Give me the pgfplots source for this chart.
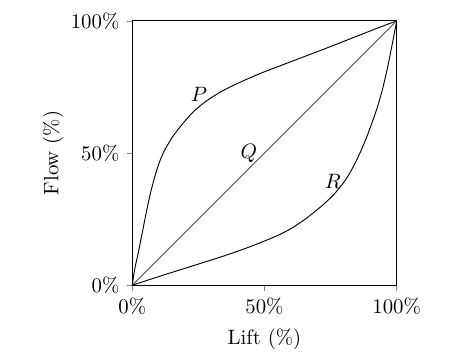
\documentclass[border=0pt]{standalone}
\usepackage{pgfplots}
\pgfplotsset{compat=1.18}
\begin{document}
\begin{tikzpicture}
\useasboundingbox (-63.6pt,-35pt) rectangle (160.9pt,137.1pt);
\begin{axis}[
  at={(0,0)}, anchor=south west,
  scale only axis, width=127.1pt, height=127.1pt,
  xmin=0, xmax=100, ymin=0, ymax=100,
  xtick={0,50,100}, ytick={0,50,100},
  xticklabels={0\%,50\%,100\%}, yticklabels={0\%,50\%,100\%},
  tick pos=left, tick align=outside, major tick length=2.7pt,
  xlabel={Lift (\%)}, ylabel={Flow (\%)},
  ylabel shift=-3.4pt,
  clip=false,
]
\addplot[black, line width=0.45pt, smooth, tension=0.7] coordinates {
(0,0) (0.4,3) (1.1,7) (2.2,12) (3.7,19.5) (5.6,29) (7.5,37.3) (10,45.8) (12.5,51.6) (15,55.8) (20,62.2) (25,67.3) (31.4,71.9) (37.7,75.3) (44,78.2) (50.2,80.8) (62,85.3) (74.3,90) (87,95) (100,100)
};
\addplot[black!70, line width=0.4pt] coordinates {(0,0) (100,100)};
\addplot[black, line width=0.45pt, smooth, tension=0.7] coordinates {
(0,0) (11.7,3.8) (24.4,7.8) (38,12.2) (50.2,16.8) (58,20.3) (64,24) (69,27.8) (74,32.1) (78,36.4) (82.3,42.5) (86.8,51.6) (90.5,61) (93.5,70) (95.8,79) (97.8,88.5) (100,100)
};
\node at (axis cs:25.2,72.3) {$P$};
\node at (axis cs:44.1,49.8) {$Q$};
\node at (axis cs:75.9,39.4) {$R$};
\end{axis}
\end{tikzpicture}
\end{document}
